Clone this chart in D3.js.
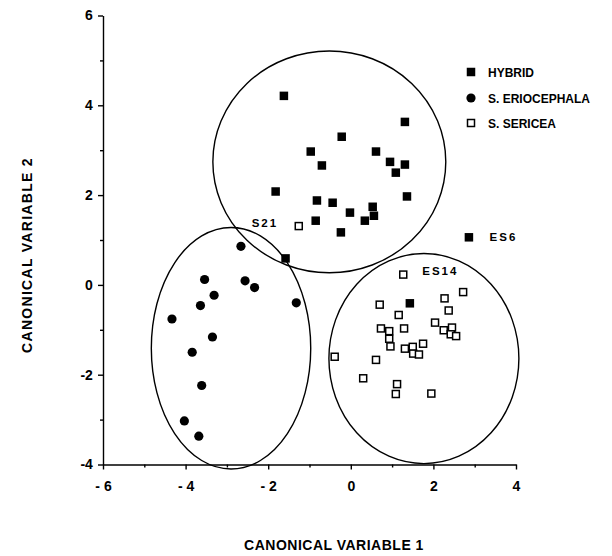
<!DOCTYPE html>
<html>
<head>
<meta charset="utf-8">
<script src="https://cdn.jsdelivr.net/npm/d3@7"></script>
<style>
  body { margin: 0; background: #fff; }
  text { font-family: "Liberation Sans", Arial, Helvetica, sans-serif; font-weight: bold; fill: #000; }
</style>
</head>
<body>
<div id="chart"></div>
<script>
// data
var hybrid = [
  [-1.62, 4.21], [1.31, 3.63], [-0.22, 3.30], [-0.97, 2.97], [0.61, 2.97],
  [0.95, 2.74], [1.31, 2.68], [1.09, 2.50], [-0.70, 2.66], [-1.82, 2.08],
  [1.36, 1.97], [-0.82, 1.88], [-0.44, 1.83], [-0.02, 1.61], [0.53, 1.74],
  [0.56, 1.54], [0.34, 1.43], [-0.85, 1.43], [-0.24, 1.17], [-1.58, 0.59],
  [2.86, 1.06], [1.43, -0.41]
];
var eriocephala = [
  [-2.66, 0.86], [-3.54, 0.12], [-2.56, 0.09], [-2.33, -0.06], [-3.31, -0.23],
  [-3.64, -0.46], [-1.32, -0.40], [-4.33, -0.76], [-3.35, -1.16], [-3.84, -1.50],
  [-3.61, -2.24], [-4.03, -3.03], [-3.68, -3.37]
];
var sericea = [
  [1.27, 0.23], [2.72, -0.16], [0.70, -0.44], [2.27, -0.30], [2.37, -0.57],
  [1.16, -0.67], [2.04, -0.84], [0.73, -0.97], [0.93, -1.03], [1.29, -0.97],
  [2.25, -1.01], [2.45, -0.95], [2.42, -1.10], [2.55, -1.14], [0.93, -1.20],
  [0.96, -1.37], [1.31, -1.42], [1.50, -1.38], [1.75, -1.31], [1.51, -1.53],
  [1.65, -1.55], [-0.39, -1.60], [0.61, -1.67], [0.30, -2.08], [1.12, -2.21],
  [1.09, -2.43], [1.95, -2.42], [-1.26, 1.31]
];
// group ellipses: centre x, centre y, radius x, radius y (data units)
var ellipses = [
  [-0.52, 2.74, 2.82, 2.47],
  [-2.90, -1.41, 1.93, 2.69],
  [1.77, -1.64, 2.30, 2.34]
];
var pointLabels = [
  { text: "S21", x: -2.40, y: 1.28 },
  { text: "ES14", x: 1.73, y: 0.21 },
  { text: "ES6", x: 3.36, y: 0.97 }
];
var legendItems = ["HYBRID", "S. ERIOCEPHALA", "S. SERICEA"];
var xMajor = [-6, -4, -2, 0, 2, 4];
var xMinor = [-5, -3, -1, 1, 3];
var yMajor = [-4, -2, 0, 2, 4, 6];
var yMinor = [-3, -1, 1, 3, 5];

var W = 612, H = 556;

var svg = d3.select('#chart')
    .append('svg')
    .attr('width', W)
    .attr('height', H);

var x = d3.scaleLinear().domain([-6, 4]).range([103, 516]);
var y = d3.scaleLinear().domain([-4, 6]).range([464.5, 15.5]);

// axes
var xAxis = svg.append('g')
    .attr('transform', 'translate(0,' + y(-4) + ')')
    .call(d3.axisBottom(x).tickValues(xMajor).tickSize(5).tickSizeOuter(0)
        .tickFormat(function(d){ return d < 0 ? '- ' + Math.abs(d) : d; }));
xAxis.selectAll('text').attr('font-size', 14).attr('dy', '1.3em');
svg.append('g')
    .attr('transform', 'translate(0,' + y(-4) + ')')
    .call(d3.axisBottom(x).tickValues(xMinor).tickSize(3).tickFormat('').tickSizeOuter(0))
    .select('.domain').remove();

var yAxis = svg.append('g')
    .attr('transform', 'translate(' + x(-6) + ',0)')
    .call(d3.axisLeft(y).tickValues(yMajor).tickSize(5).tickSizeOuter(0)
        .tickFormat(function(d){ return d; }));
yAxis.selectAll('text').attr('font-size', 14).attr('dx', '-0.15em');
svg.append('g')
    .attr('transform', 'translate(' + x(-6) + ',0)')
    .call(d3.axisLeft(y).tickValues(yMinor).tickSize(3).tickFormat('').tickSizeOuter(0))
    .select('.domain').remove();

svg.selectAll('.domain, .tick line').attr('stroke', '#000').attr('stroke-width', 1.4);

// axis titles
svg.append('text')
    .attr('x', 334).attr('y', 550)
    .attr('text-anchor', 'middle')
    .attr('font-size', 14)
    .attr('letter-spacing', 0.5)
    .text('CANONICAL VARIABLE 1');
svg.append('text')
    .attr('transform', 'translate(32,255) rotate(-90)')
    .attr('text-anchor', 'middle')
    .attr('font-size', 14)
    .attr('letter-spacing', 1.3)
    .text('CANONICAL VARIABLE 2');

// ellipses
svg.append('g')
    .selectAll('ellipse')
    .data(ellipses)
    .enter()
    .append('ellipse')
    .attr('cx', function(d){ return x(d[0]); })
    .attr('cy', function(d){ return y(d[1]); })
    .attr('rx', function(d){ return x(d[2]) - x(0); })
    .attr('ry', function(d){ return y(0) - y(d[3]); })
    .attr('fill', 'none')
    .attr('stroke', '#000')
    .attr('stroke-width', 1.4);

// points
var sq = 8.5, osq = 7;
svg.append('g')
    .selectAll('rect')
    .data(sericea)
    .enter()
    .append('rect')
    .attr('x', function(d){ return x(d[0]) - osq / 2; })
    .attr('y', function(d){ return y(d[1]) - osq / 2; })
    .attr('width', osq).attr('height', osq)
    .attr('fill', '#fff')
    .attr('stroke', '#000')
    .attr('stroke-width', 1.5);

svg.append('g')
    .selectAll('rect')
    .data(hybrid)
    .enter()
    .append('rect')
    .attr('x', function(d){ return x(d[0]) - sq / 2; })
    .attr('y', function(d){ return y(d[1]) - sq / 2; })
    .attr('width', sq).attr('height', sq)
    .attr('fill', '#000');

svg.append('g')
    .selectAll('circle')
    .data(eriocephala)
    .enter()
    .append('circle')
    .attr('cx', function(d){ return x(d[0]); })
    .attr('cy', function(d){ return y(d[1]); })
    .attr('r', 4.6)
    .attr('fill', '#000');

// labels beside particular points
svg.append('g')
    .selectAll('text')
    .data(pointLabels)
    .enter()
    .append('text')
    .attr('x', function(d){ return x(d.x); })
    .attr('y', function(d){ return y(d.y); })
    .attr('font-size', 11.5)
    .attr('letter-spacing', 2)
    .text(function(d){ return d.text; });

// legend
var legend = svg.append('g');
var ly = [72, 98, 123];
legendItems.forEach(function(name, i){
    var g = legend.append('g').attr('transform', 'translate(471,' + ly[i] + ')');
    if (i === 0) {
        g.append('rect').attr('x', -sq / 2).attr('y', -sq / 2).attr('width', sq).attr('height', sq).attr('fill', '#000');
    } else if (i === 1) {
        g.append('circle').attr('r', 4.6).attr('fill', '#000');
    } else {
        g.append('rect').attr('x', -osq / 2).attr('y', -osq / 2).attr('width', osq).attr('height', osq)
            .attr('fill', '#fff').attr('stroke', '#000').attr('stroke-width', 1.5);
    }
    g.append('text').attr('x', 17).attr('y', 4.5).attr('font-size', 12).text(name);
});
</script>
</body>
</html>
